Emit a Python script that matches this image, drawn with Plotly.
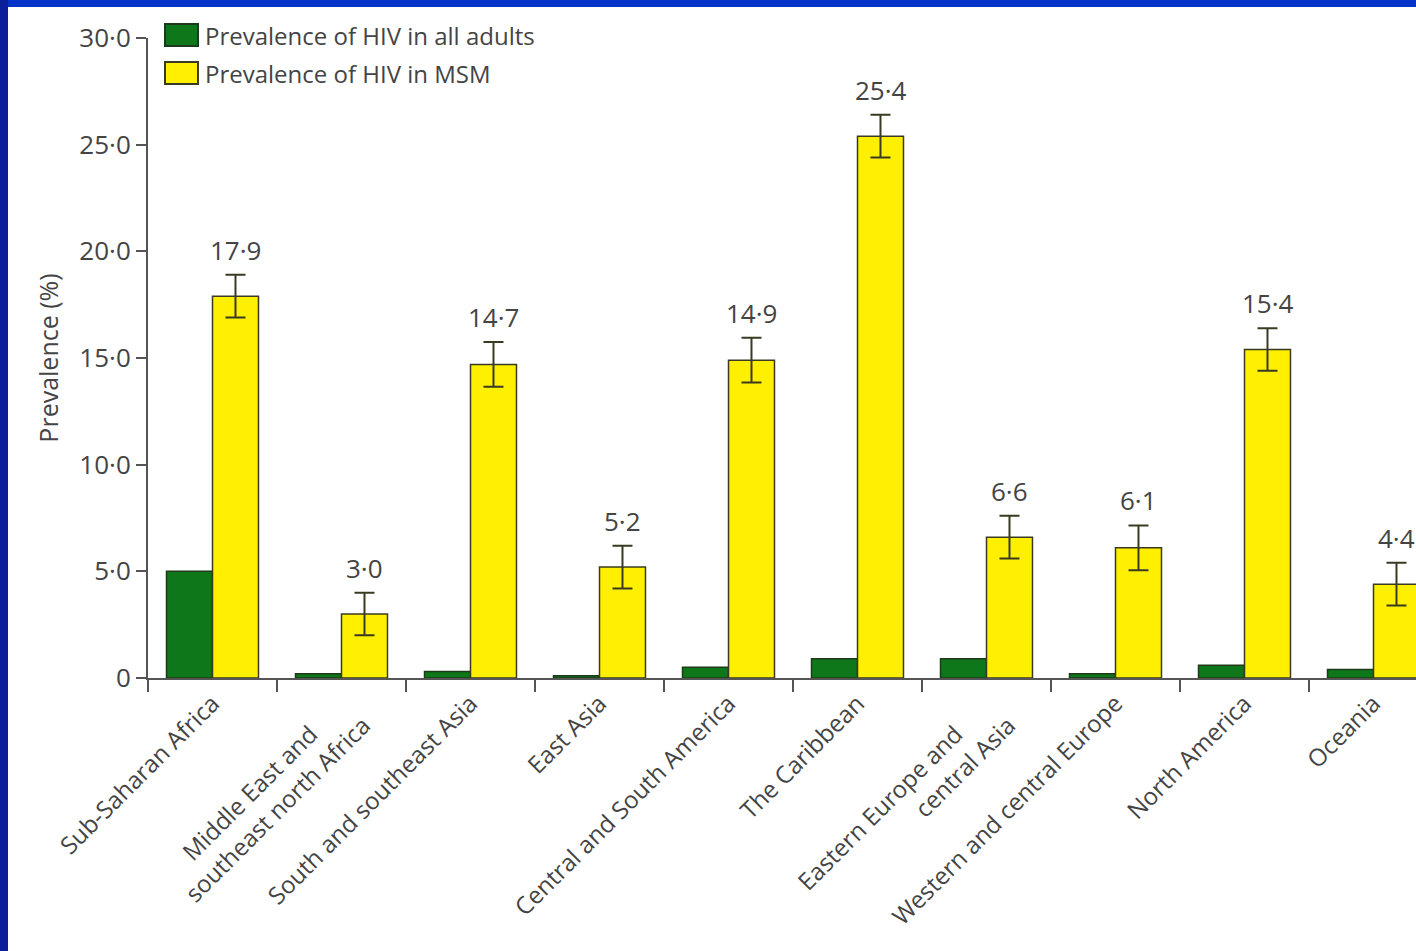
import plotly.graph_objects as go

# Regions and HIV prevalence (%)
NB = "&nbsp;" * 7  # pushes the shorter first line back along the slanted label
regions = [
    "Sub-Saharan Africa",
    "Middle East and" + NB + "<br>southeast north Africa",
    "South and southeast Asia",
    "East Asia",
    "Central and South America",
    "The Caribbean",
    "Eastern Europe and" + NB + "<br>central Asia",
    "Western and central Europe",
    "North America",
    "Oceania",
]
prev_all_adults = [5.0, 0.2, 0.3, 0.1, 0.5, 0.9, 0.9, 0.2, 0.6, 0.4]
prev_msm = [17.9, 3.0, 14.7, 5.2, 14.9, 25.4, 6.6, 6.1, 15.4, 4.4]
msm_err = [1.0, 1.0, 1.05, 1.0, 1.05, 1.0, 1.0, 1.05, 1.0, 1.0]
msm_labels = [f"{v:.1f}".replace(".", "\u00b7") for v in prev_msm]
y_ticks = [0, 5, 10, 15, 20, 25, 30]
y_ticktext = ["0"] + [f"{v:.1f}".replace(".", "\u00b7") for v in y_ticks[1:]]

W, H = 1416, 951
ML, MR, MT, MB = 148, 0, 38, 273
PW, PH = W - ML - MR, H - MT - MB

GREEN = "#0d7719"
YELLOW = "#ffef00"
EDGE = "#3a3a22"
TXT = "#444444"
FONT = "Open Sans, Noto Sans, sans-serif"


def px(x):
    return (x - ML) / PW


def py(y):
    return 1 - (y - MT) / PH


fig = go.Figure()
fig.add_trace(go.Bar(
    x=regions, y=prev_all_adults, name="Prevalence of HIV in all adults",
    marker=dict(color=GREEN, line=dict(color="#1f3a1a", width=1.5)),
))
fig.add_trace(go.Bar(
    x=regions, y=prev_msm, name="Prevalence of HIV in MSM",
    marker=dict(color=YELLOW, line=dict(color=EDGE, width=1.5)),
    error_y=dict(type="data", array=msm_err, visible=True,
                 color=EDGE, thickness=2, width=10),
))

# value labels above the MSM error bars
for r, v, e, lab in zip(regions, prev_msm, msm_err, msm_labels):
    fig.add_annotation(x=r, y=v + e, text=lab, showarrow=False,
                       xshift=23, yshift=5, yanchor="bottom",
                       font=dict(family=FONT, size=26, color=TXT))

# legend drawn as swatches + text
legend_items = [("Prevalence of HIV in all adults", GREEN, "#1f3a1a"),
                ("Prevalence of HIV in MSM", YELLOW, EDGE)]
for i, (name, col, edge) in enumerate(legend_items):
    top = 24 + i * 38
    fig.add_shape(type="rect", xref="paper", yref="paper",
                  x0=px(165), x1=px(198), y0=py(top), y1=py(top + 22),
                  fillcolor=col, line=dict(color=edge, width=2))
    fig.add_annotation(xref="paper", yref="paper", x=px(203), y=py(top + 11),
                       text=name, showarrow=False, xanchor="left", yanchor="middle",
                       font=dict(family=FONT, size=24, color=TXT))

# blue slide frame
fig.add_shape(type="rect", xref="paper", yref="paper",
              x0=px(0), x1=px(W), y0=py(0), y1=py(7),
              fillcolor="#0533c8", line=dict(width=0), layer="above")
fig.add_shape(type="rect", xref="paper", yref="paper",
              x0=px(0), x1=px(8), y0=py(0), y1=py(H),
              fillcolor="#0a1f9a", line=dict(width=0), layer="above")

n_visible = PW / 129.0
fig.update_layout(
    width=W, height=H,
    margin=dict(l=ML, r=MR, t=MT, b=MB, pad=0),
    paper_bgcolor="white", plot_bgcolor="white",
    barmode="group", bargap=0.287, bargroupgap=0,
    showlegend=False,
    font=dict(family=FONT, color=TXT),
    xaxis=dict(
        type="category", range=[-0.5, -0.5 + n_visible],
        showline=True, linecolor="#555555", linewidth=2,
        ticks="outside", tickson="boundaries", ticklen=12, tickwidth=2,
        tickcolor="#555555", tickangle=-45,
        tickfont=dict(family=FONT, size=24, color=TXT),
        showgrid=False, zeroline=False,
    ),
    yaxis=dict(
        range=[0, 30], tickvals=y_ticks, ticktext=y_ticktext,
        showline=True, linecolor="#555555", linewidth=2,
        ticks="outside", ticklen=10, tickwidth=2, tickcolor="#555555",
        tickfont=dict(family=FONT, size=26, color=TXT),
        showgrid=False, zeroline=False,
        title=dict(text="Prevalence (%)", standoff=14,
                   font=dict(family=FONT, size=25, color=TXT)),
    ),
)

fig.write_html("out.html")
